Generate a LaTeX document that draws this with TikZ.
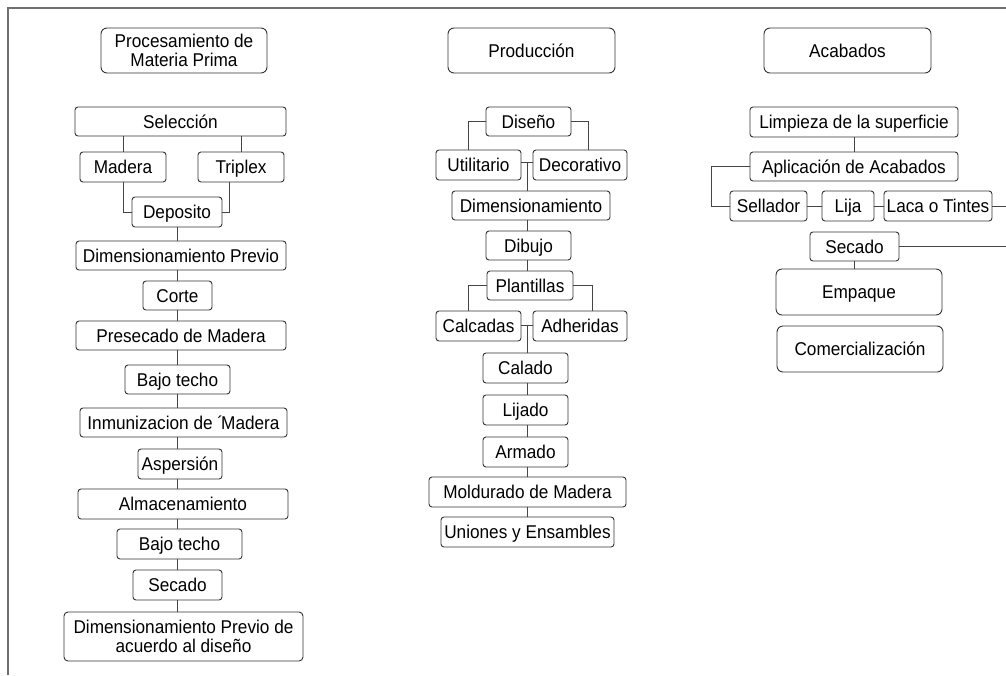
\documentclass[tikz,border=0pt]{standalone}
\usepackage{fontspec}
\setmainfont{Liberation Sans}[FakeStretch=0.93]
\definecolor{boxc}{HTML}{333333}
\definecolor{linec}{HTML}{444444}
\definecolor{framec}{HTML}{707070}
\tikzset{
  box/.style={draw=boxc, line width=0.9pt, rounded corners=3pt, fill=white, inner sep=0pt,
    font=\fontsize{18.5}{19}\selectfont, text height=13.3pt, text depth=0pt},
  hdr/.style={box, rounded corners=6pt},
  twoline/.style={draw=boxc, line width=0.9pt, fill=white, inner sep=0pt, align=center,
    font=\fontsize{18.5}{18.5}\selectfont},
  conn/.style={draw=linec, line width=0.9pt},
  frameline/.style={draw=framec, line width=1.4pt},
}
\begin{document}
\begin{tikzpicture}[x=1pt,y=-1pt]
\useasboundingbox (0,0) rectangle (1006,675);
\draw[frameline] (8,675) -- (8,8) -- (1010,8);

% ---------- left column ----------
\coordinate (axL) at (177,0);
\node[twoline, rounded corners=6pt, minimum width=166pt, minimum height=45pt] (proc) at (184,50.5) {Procesamiento de\\Materia Prima};
\node[box, minimum width=211pt, minimum height=29pt] (sel) at (180.5,121.5) {Selección};
\node[box, minimum width=86pt, minimum height=30pt] (mad) at (123,167) {Madera};
\node[box, minimum width=86pt, minimum height=30pt] (tri) at (241,167) {Triplex};
\node[box, minimum width=90pt, minimum height=30pt] (dep) at (177,212) {Deposito};
\node[box, minimum width=210pt, minimum height=29pt] (dimp) at (181,255.5) {Dimensionamiento Previo};
\node[box, minimum width=69pt, minimum height=29pt] (cor) at (177.5,295.5) {Corte};
\node[box, minimum width=210pt, minimum height=29pt] (pre) at (181,335.5) {Presecado de Madera};
\node[box, minimum width=105pt, minimum height=29pt] (baja) at (177.5,379.5) {Bajo techo};
\node[box, minimum width=207pt, minimum height=29pt] (inm) at (183.5,422.5) {Inmunizacion de ´\kern-2ptMadera};
\node[box, minimum width=84pt, minimum height=30pt] (asp) at (180,464) {Aspersión};
\node[box, minimum width=210pt, minimum height=30pt] (alm) at (183,504) {Almacenamiento};
\node[box, minimum width=125pt, minimum height=30pt] (bajb) at (179.5,544) {Bajo techo};
\node[box, minimum width=89pt, minimum height=30pt] (seca) at (177.5,585) {Secado};
\node[twoline, rounded corners=4pt, minimum width=239pt, minimum height=49pt] (dpa) at (183.5,636.5) {Dimensionamiento Previo de\\acuerdo al diseño};

\draw[conn] (sel.south -| mad) -- (mad.north);
\draw[conn] (sel.south -| tri) -- (tri.north);
\draw[conn] (mad.south) |- (dep.west);
\draw[conn] ([xshift=-12pt]tri.south) |- (dep.east);
\foreach \a/\b in {dep/dimp, dimp/cor, cor/pre, pre/baja, baja/inm, inm/asp, asp/alm, alm/bajb, bajb/seca, seca/dpa}
  \draw[conn] (axL |- \a.south) -- (axL |- \b.north);

% ---------- middle column ----------
\coordinate (axM) at (527,0);
\node[hdr, minimum width=167pt, minimum height=45pt] (prod) at (531.5,50.5) {Producción};
\node[box, minimum width=85pt, minimum height=29pt] (dis) at (528.5,121.5) {Diseño};
\node[box, minimum width=85pt, minimum height=30pt] (uti) at (478.5,165) {Utilitario};
\node[box, minimum width=94pt, minimum height=30pt] (dec) at (580,165) {Decorativo};
\node[box, minimum width=158pt, minimum height=29pt] (dimm) at (531,205.5) {Dimensionamiento};
\node[box, minimum width=85pt, minimum height=29pt] (dib) at (528.5,245.5) {Dibujo};
\node[box, minimum width=86pt, minimum height=29pt] (pla) at (530,285.5) {Plantillas};
\node[box, minimum width=85pt, minimum height=30pt] (calc) at (478.5,326) {Calcadas};
\node[box, minimum width=94pt, minimum height=30pt] (adh) at (580,326) {Adheridas};
\node[box, minimum width=85pt, minimum height=30pt] (cld) at (525.5,368) {Calado};
\node[box, minimum width=85pt, minimum height=30pt] (lij) at (525.5,410) {Lijado};
\node[box, minimum width=85pt, minimum height=30pt] (arm) at (525.5,452) {Armado};
\node[box, minimum width=197pt, minimum height=30pt] (mol) at (527.5,492) {Moldurado de Madera};
\node[box, minimum width=173pt, minimum height=30pt] (uni) at (527.5,532) {Uniones y Ensambles};

\coordinate (ud) at ([yshift=3pt]uti.east);
\coordinate (ca) at ([yshift=1pt]calc.east);
\draw[conn] (dis.west) -| ([xshift=-10pt]uti.north);
\draw[conn] (dis.east) -| ([xshift=8pt]dec.north);
\draw[conn] (ud) -- (ud -| dec.west);
\draw[conn] (axM |- ud) -- (axM |- dimm.north);
\draw[conn] (axM |- dimm.south) -- (axM |- dib.north);
\draw[conn] (axM |- dib.south) -- (axM |- pla.north);
\draw[conn] (pla.west) -| ([xshift=-10pt]calc.north);
\draw[conn] (pla.east) -| ([xshift=12pt]adh.north);
\draw[conn] (ca) -- (ca -| adh.west);
\draw[conn] (axM |- ca) -- (axM |- cld.north);
\foreach \a/\b in {cld/lij, lij/arm, arm/mol, mol/uni}
  \draw[conn] (axM |- \a.south) -- (axM |- \b.north);

% ---------- right column ----------
\node[hdr, minimum width=167pt, minimum height=45pt] (aca) at (847.5,50.5) {Acabados};
\node[box, minimum width=208pt, minimum height=30pt] (lim) at (854,122) {Limpieza de la superficie};
\node[box, minimum width=208pt, minimum height=29pt] (apl) at (854,166.5) {Aplicación de Acabados};
\node[box, minimum width=77pt, minimum height=30pt] (sll) at (768.5,206) {Sellador};
\node[box, minimum width=52pt, minimum height=30pt] (lja) at (848,206) {Lija};
\node[box, minimum width=108pt, minimum height=30pt] (lac) at (938,206) {Laca o Tintes};
\node[box, minimum width=89pt, minimum height=29pt] (secb) at (854.5,246.5) {Secado};
\node[hdr, minimum width=166pt, minimum height=46pt] (emp) at (859,292) {Empaque};
\node[hdr, minimum width=166pt, minimum height=46pt] (com) at (860,349) {Comercialización};

\coordinate (aL) at (711,166.5);
\coordinate (rE) at (1010,206);
\draw[conn] (lim.south) -- (apl.north);
\draw[conn] (apl.west) -- (aL) |- (sll.west);
\draw[conn] (sll.east) -- (lja.west);
\draw[conn] (lja.east) -- (lac.west);
\draw[conn] (lac.east) -- (rE) |- (secb.east);
\draw[conn] (secb.south) -- (secb.south |- emp.north);
\end{tikzpicture}
\end{document}
